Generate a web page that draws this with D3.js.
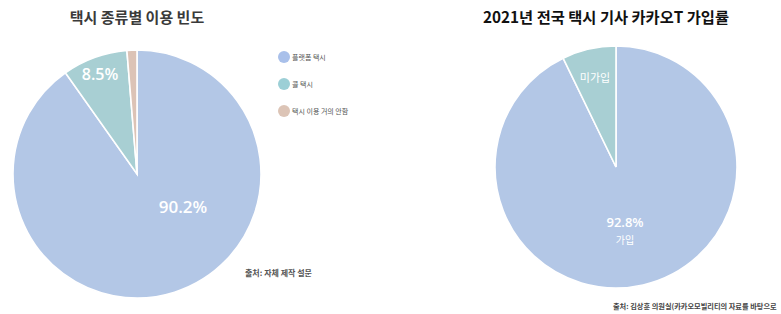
<!DOCTYPE html>
<html><head><meta charset="utf-8">
<script src="https://cdn.jsdelivr.net/npm/d3@7"></script>
<style>body{margin:0;background:#fff;overflow:hidden}svg{display:block;font-family:"Noto Sans CJK KR","Noto Sans",sans-serif}</style>
</head><body><svg id="c" width="781" height="314"></svg>
<script>
const leftTitle = "택시 종류별 이용 빈도";
const leftCategories = ["플랫폼 택시", "콜 택시", "택시 이용 거의 안함"];
const leftValues = [90.2, 8.5, 1.3];
const leftLabels = ["90.2%", "8.5%", ""];
const leftSource = "출처: 자체 제작 설문";

const rightTitle = "2021년 전국 택시 기사 카카오T 가입률";
const rightCategories = ["가입", "미가입"];
const rightValues = [92.8, 7.2];
const rightLabels = ["92.8%", ""];
const rightSource = "출처: 김상훈 의원실(카카오모빌리티의 자료를 바탕으로";

const sliceColors = ["#b3c7e6", "#a8cfd3", "#dcc3b6"];
const legendColors = ["#a9c0ea", "#9ccfd6", "#dcc4b6"];

const svg = d3.select("#c");
const pie = d3.pie().sort(null).value(d => d);

function drawPie(cx, cy, r, values, colors) {
  const arc = d3.arc().innerRadius(0).outerRadius(r);
  const g = svg.append("g").attr("transform", `translate(${cx},${cy})`);
  const arcs = pie(values);
  g.selectAll("path").data(arcs).join("path")
    .attr("d", arc).attr("fill", (d, i) => colors[i])
    .attr("stroke", "#fff").attr("stroke-width", 1.6);
  return {g, arcs, arc};
}

// Left pie
const L = drawPie(137, 174, 124, leftValues, sliceColors);
L.g.append("text").attr("x", 46).attr("y", 39).attr("text-anchor", "middle")
  .attr("fill", "#fff").attr("font-size", 17).attr("font-weight", 600)
  .attr("font-family", "Open Sans, Noto Sans, sans-serif").text(leftLabels[0]);
L.g.append("text").attr("x", -37).attr("y", -94).attr("text-anchor", "middle")
  .attr("fill", "#fff").attr("font-size", 16).attr("font-weight", 600)
  .attr("font-family", "Open Sans, Noto Sans, sans-serif").text(leftLabels[1]);

svg.append("text").attr("x", 137).attr("y", 23).attr("text-anchor", "middle")
  .attr("font-size", 15).attr("font-weight", 700).attr("fill", "#3a3a3a").text(leftTitle);

// Legend
const lg = svg.append("g");
leftCategories.forEach((c, i) => {
  const y = 57 + i * 27;
  lg.append("circle").attr("cx", 284).attr("cy", y).attr("r", 6).attr("fill", legendColors[i]);
  lg.append("text").attr("x", 292).attr("y", y + 3).attr("font-size", 7).attr("fill", "#555").text(c);
});

svg.append("text").attr("x", 245).attr("y", 276).attr("font-size", 8).attr("font-weight", 700)
  .attr("fill", "#555").text(leftSource);

// Right pie
const R = drawPie(616, 167, 121, rightValues, sliceColors);
R.g.append("text").attr("x", 9).attr("y", 60).attr("text-anchor", "middle")
  .attr("fill", "#fff").attr("font-size", 13).attr("font-weight", 600)
  .attr("font-family", "Open Sans, Noto Sans, sans-serif").text(rightLabels[0]);
R.g.append("text").attr("x", 9).attr("y", 77).attr("text-anchor", "middle")
  .attr("fill", "#fff").attr("font-size", 10).text(rightCategories[0]);
R.g.append("text").attr("x", -21).attr("y", -85).attr("text-anchor", "middle")
  .attr("fill", "#fff").attr("font-size", 11).text(rightCategories[1]);

svg.append("text").attr("x", 483).attr("y", 23)
  .attr("font-size", 15.3).attr("font-weight", 700).attr("fill", "#111").text(rightTitle);

svg.append("text").attr("x", 613).attr("y", 309).attr("font-size", 7.2).attr("font-weight", 700)
  .attr("fill", "#444").text(rightSource);
</script></body></html>
